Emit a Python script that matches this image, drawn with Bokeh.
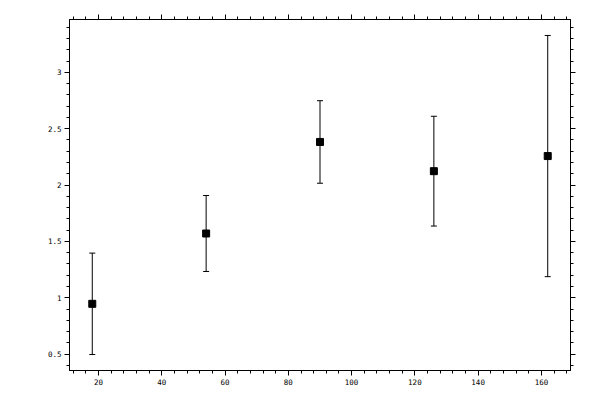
from bokeh.plotting import figure
from bokeh.models import (ColumnDataSource, Whisker, TeeHead, Range1d, LinearAxis,
                          SingleIntervalTicker, NumeralTickFormatter, CustomJSTickFormatter)
from bokeh.embed import file_html
from bokeh.resources import INLINE

# data
x_vals = [18, 54, 90, 126, 162]
y_vals = [0.946, 1.570, 2.382, 2.123, 2.257]
y_err = [0.450, 0.337, 0.366, 0.487, 1.070]

lower = [y - e for y, e in zip(y_vals, y_err)]
upper = [y + e for y, e in zip(y_vals, y_err)]

src = ColumnDataSource(dict(x=x_vals, y=y_vals, lower=lower, upper=upper))

xpad = (max(x_vals) - min(x_vals)) * 0.05
ypad = (max(upper) - min(lower)) * 0.05

p = figure(width=592, height=392, output_backend="svg", toolbar_location=None,
           x_range=Range1d(min(x_vals) - xpad, max(x_vals) + xpad),
           y_range=Range1d(min(lower) - ypad, max(upper) + ypad),
           min_border_left=69, min_border_right=22, min_border_top=19, min_border_bottom=22)

p.xgrid.visible = False
p.ygrid.visible = False
p.outline_line_color = "black"
p.outline_line_width = 1
p.background_fill_color = "white"
p.border_fill_color = "white"

FONT = "DejaVu Sans Mono"
FS = "7.5px"

xt = SingleIntervalTicker(interval=20, num_minor_ticks=5)
yt = SingleIntervalTicker(interval=0.5, num_minor_ticks=5)

def style(ax, ticker, labels=True):
    ax.ticker = ticker
    ax.axis_line_color = "black"
    ax.major_tick_line_color = "black"
    ax.minor_tick_line_color = "black"
    ax.major_tick_in = 0
    ax.major_tick_out = 5
    ax.minor_tick_in = 0
    ax.minor_tick_out = 3
    ax.major_label_text_font = FONT
    ax.major_label_text_font_size = FS
    ax.major_label_text_color = "black"
    ax.major_label_standoff = 3
    if not labels:
        ax.formatter = CustomJSTickFormatter(code="return ''")

style(p.below[0], xt)
style(p.left[0], yt)
p.left[0].formatter = NumeralTickFormatter(format="0.[0]")

top = LinearAxis()
style(top, SingleIntervalTicker(interval=20, num_minor_ticks=5), labels=False)
p.add_layout(top, "above")
right = LinearAxis()
style(right, SingleIntervalTicker(interval=0.5, num_minor_ticks=5), labels=False)
p.add_layout(right, "right")

wh = Whisker(base="x", lower="lower", upper="upper", source=src,
             line_color="black", line_width=1,
             upper_head=TeeHead(size=6, line_color="black", line_width=1),
             lower_head=TeeHead(size=6, line_color="black", line_width=1))
p.add_layout(wh)

p.scatter("x", "y", source=src, marker="square", size=7,
          fill_color="black", line_color="black")

open("out.html", "w").write(file_html(p, INLINE))
